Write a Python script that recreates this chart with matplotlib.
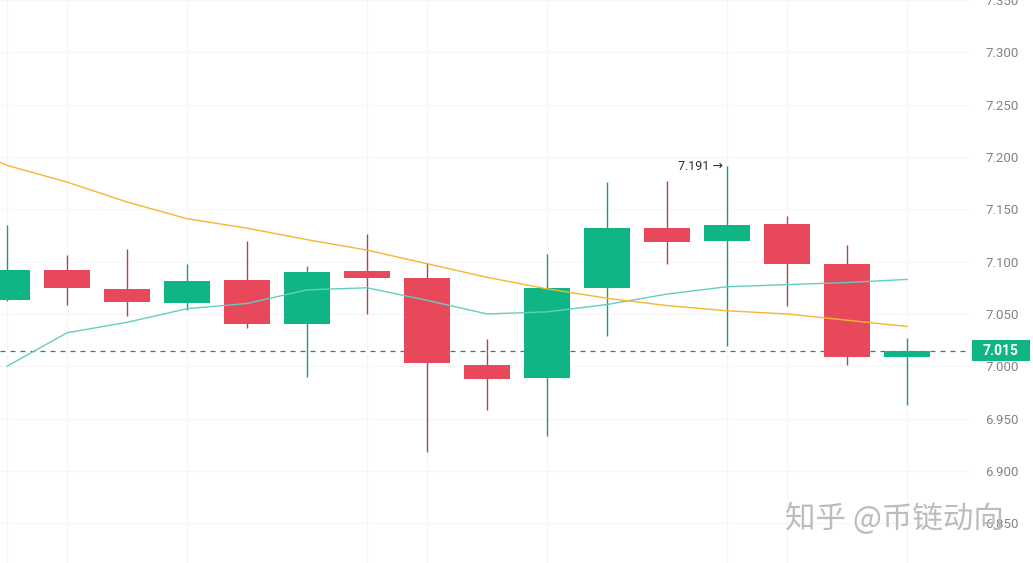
import matplotlib
matplotlib.use("Agg")
import matplotlib.pyplot as plt
from matplotlib.patches import Rectangle
import numpy as np

# --- Data ---
opens = [7.063, 7.092, 7.074, 7.060, 7.082, 7.040, 7.091, 7.084, 7.001, 6.989,
         7.075, 7.132, 7.120, 7.136, 7.098, 7.009]
closes = [7.092, 7.075, 7.061, 7.081, 7.040, 7.090, 7.084, 7.003, 6.988, 7.075,
          7.132, 7.119, 7.135, 7.098, 7.009, 7.015]
highs = [7.135, 7.106, 7.112, 7.098, 7.120, 7.096, 7.126, 7.099, 7.026, 7.107,
         7.176, 7.177, 7.191, 7.144, 7.116, 7.027]
lows = [7.062, 7.059, 7.048, 7.054, 7.037, 6.990, 7.050, 6.918, 6.958, 6.933,
        7.029, 7.098, 7.019, 7.058, 7.001, 6.963]
ma_fast = [7.000, 7.032, 7.042, 7.055, 7.060, 7.073, 7.075, 7.063, 7.050, 7.052,
           7.059, 7.069, 7.076, 7.078, 7.080, 7.083]
ma_slow = [7.192, 7.176, 7.157, 7.141, 7.132, 7.121, 7.111, 7.098, 7.085, 7.074,
           7.065, 7.058, 7.053, 7.050, 7.044, 7.038]
grid_idx = [0, 1, 3, 6, 7, 9, 12, 13, 15]
y_ticks = [6.85, 6.90, 6.95, 7.00, 7.05, 7.10, 7.15, 7.20, 7.25, 7.30, 7.35]
last_price = 7.015
peak_idx = 12
# ---------------------------------

UP = "#10b585"
DOWN = "#e8495a"
UP_WICK = "#1a9c7c"
DOWN_WICK = "#b5434f"
YMIN, YMAX = 6.812, 7.350
AX_RIGHT = 970 / 1033

fig = plt.figure(figsize=(10.33, 5.63), dpi=100)
ax = fig.add_axes([0, 0, AX_RIGHT, 1])

x = np.arange(len(opens))
body_w = 0.77

# faint grid
for v in y_ticks:
    ax.axhline(v, color="#f6f6f8", linewidth=1, zorder=0)
for i in grid_idx:
    ax.axvline(i, color="#f6f6f8", linewidth=1, zorder=0)

# candles
for i in x:
    o, c, h, l = opens[i], closes[i], highs[i], lows[i]
    up = c >= o
    ax.vlines(i, l, h, color=UP_WICK if up else DOWN_WICK, linewidth=1, zorder=2)
    ax.bar(i, abs(c - o), bottom=min(o, c), width=body_w,
           color=UP if up else DOWN, linewidth=0, zorder=3)

# moving averages
ax.plot(x, ma_fast, color="#62cfc0", linewidth=1, zorder=4)
ax.plot(np.r_[-0.12, x], np.r_[ma_slow[0] + 0.003, ma_slow], color="#f5b731",
        linewidth=1, zorder=4)

# last price line
ax.axhline(last_price, color="#1f8a72", linewidth=0.9, linestyle=(0, (4, 4)), zorder=1)

# max marker
ax.text(peak_idx - 0.07, highs[peak_idx], f"{highs[peak_idx]:.3f} \u2192",
        ha="right", va="center", fontsize=9, color="#2a2e39", zorder=5,
        family=["Roboto", "DejaVu Sans"])

ax.set_xlim(-7 / 60, 963 / 60)
ax.set_ylim(YMIN, YMAX)

ax.yaxis.tick_right()
ax.set_yticks(y_ticks)
ax.set_yticklabels([f"{v:.3f}" for v in y_ticks], family="Roboto")
ax.tick_params(axis="y", length=0, pad=11, labelsize=9.5, labelcolor="#7f838c")
ax.set_xticks([])
for s in ax.spines.values():
    s.set_visible(False)

# price tag on the axis
tag_y = (last_price - YMIN) / (YMAX - YMIN)
fig.patches.append(Rectangle((972 / 1033, tag_y - 10.5 / 563), 58 / 1033, 21 / 563,
                             transform=fig.transFigure, fc=UP, ec="none", zorder=6))
fig.text(1001 / 1033, tag_y, f"{last_price:.3f}", ha="center", va="center",
         fontsize=10, color="white", fontweight="bold", family="Roboto", zorder=7)

# watermark
fig.text(0.76, 0.078, "知乎 @币链动向", fontsize=22, color="#bcbcbc",
         family=["Noto Sans CJK SC", "DejaVu Sans"], ha="left", va="center")

fig.savefig("out.png", dpi=100)
